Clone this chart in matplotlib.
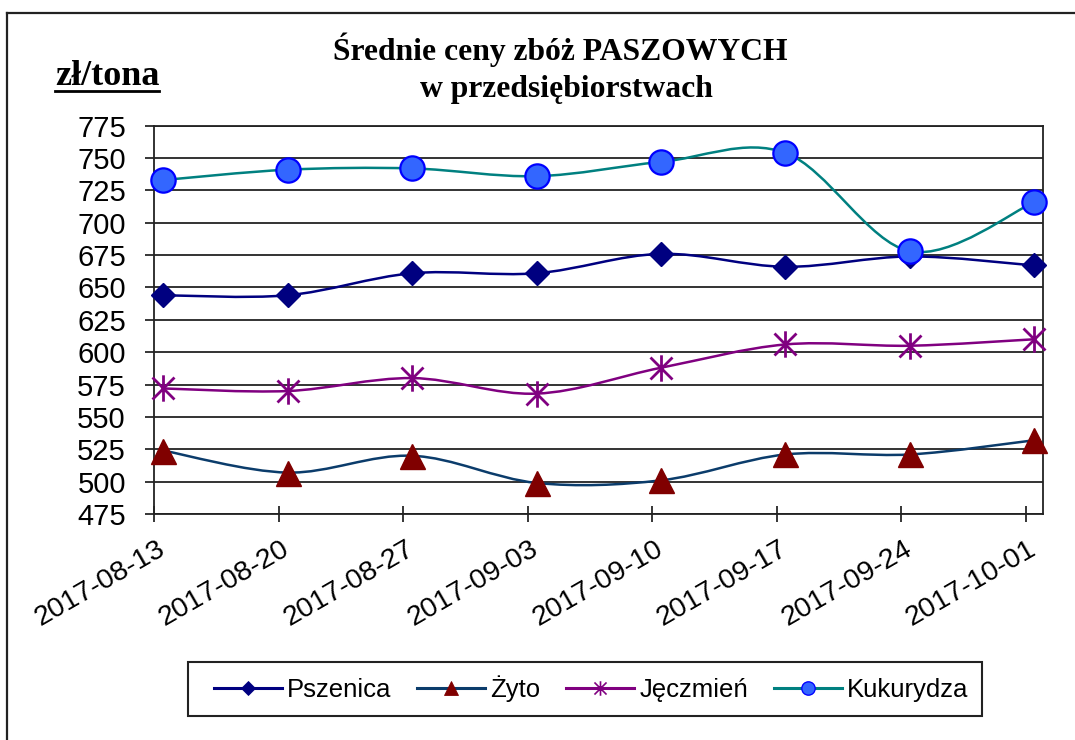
import numpy as np
import matplotlib
matplotlib.use("Agg")
import matplotlib.pyplot as plt
import matplotlib.dates as mdates
from matplotlib.path import Path
from matplotlib.patches import PathPatch, Rectangle
from matplotlib.lines import Line2D

# ---------------- data ----------------
dates = ["2017-08-13", "2017-08-20", "2017-08-27", "2017-09-03",
         "2017-09-10", "2017-09-17", "2017-09-24", "2017-10-01"]
pszenica = [644, 644, 661, 661, 676, 666, 674, 667]
zyto = [524, 507, 520, 499, 501, 521, 521, 532]
jeczmien = [572, 570, 580, 568, 588, 606, 605, 610]
kukurydza = [733, 741, 742, 736, 747, 754, 678, 716]
series_names = ["Pszenica", "Żyto", "Jęczmień", "Kukurydza"]
y_ticks = list(range(475, 776, 25))
title = "Średnie ceny zbóż PASZOWYCH\nw przedsiębiorstwach"
unit_label = "zł/tona"

plt.rcParams['font.family'] = ['Liberation Sans', 'DejaVu Sans']

W, H = 1075, 740
fig = plt.figure(figsize=(W / 100, H / 100), dpi=100)
ax = fig.add_axes([154.3 / W, 1 - 514 / H, (1043.3 - 154.3) / W, (514 - 125.7) / H])

xnum = mdates.datestr2num(dates)
xpts = xnum + 0.5  # Excel date axis: points centred within the day


def smooth_path(xs, ys):
    pts = np.column_stack([xs, ys]).astype(float)
    n = len(pts)
    verts = [pts[0]]
    codes = [Path.MOVETO]
    for i in range(n - 1):
        p0 = pts[i - 1] if i > 0 else pts[i]
        p1 = pts[i]
        p2 = pts[i + 1]
        p3 = pts[i + 2] if i + 2 < n else pts[i + 1]
        c1 = p1 + (p2 - p0) / 6.0
        c2 = p2 - (p3 - p1) / 6.0
        verts += [c1, c2, p2]
        codes += [Path.CURVE4] * 3
    return Path(verts, codes)


# custom Excel-like star marker (X plus vertical bar)
star = Path([(-1, -1), (1, 1), (-1, 1), (1, -1), (0, -1.2), (0, 1.2)],
            [Path.MOVETO, Path.LINETO, Path.MOVETO, Path.LINETO, Path.MOVETO, Path.LINETO])

styles = [
    dict(vals=pszenica, lc="#000080", marker="D", ms=12.5, mfc="#000080", mec="#000080", mew=1.0),
    dict(vals=zyto, lc="#0B3C6B", marker="^", ms=18, mfc="#800000", mec="#800000", mew=1.0),
    dict(vals=jeczmien, lc="#800080", marker=star, ms=19, mfc="none", mec="#800080", mew=2.0),
    dict(vals=kukurydza, lc="#008080", marker="o", ms=17.5, mfc="#3366FF", mec="#0000FF", mew=1.6),
]

handles = []
for k, (name, st) in enumerate(zip(series_names, styles)):
    patch = PathPatch(smooth_path(xpts, st["vals"]), fill=False, edgecolor=st["lc"],
                      lw=1.8, zorder=3 + 2 * k, capstyle='round', joinstyle='round')
    ax.add_patch(patch)
    ax.plot(xpts, st["vals"], linestyle="none", marker=st["marker"], ms=st["ms"],
            mfc=st["mfc"], mec=st["mec"], mew=st["mew"], zorder=4 + 2 * k, clip_on=False)
    handles.append(Line2D([], [], color=st["lc"], lw=2.2, marker=st["marker"],
                          ms=st["ms"] * 0.55, mfc=st["mfc"], mec=st["mec"],
                          mew=st["mew"] * 0.6, label=name))

ax.set_xlim(xnum[0], xnum[-1] + 1)
ax.set_ylim(y_ticks[0], y_ticks[-1])
ax.set_yticks(y_ticks)
ax.set_yticklabels([str(v) for v in y_ticks], fontsize=21)
ax.yaxis.grid(True, color="#111111", lw=1.2, zorder=1)
ax.set_axisbelow(True)
ax.tick_params(axis="y", direction="out", length=6.5, width=1.1, pad=14, colors="black")

# x axis: major tick marks at the dates, labels centred at data positions
ax.set_xticks(xnum)
ax.set_xticklabels([""] * len(xnum))
ax.tick_params(axis="x", which="major", direction="inout", length=11.5, width=1.1)
ax.set_xticks(xpts, minor=True)
ax.set_xticklabels(dates, minor=True, rotation=30, ha="right", va="center",
                   rotation_mode="anchor", fontsize=20.5)
ax.tick_params(axis="x", which="minor", length=0, pad=24)

for s in ax.spines.values():
    s.set_color("#222222")
    s.set_linewidth(1.3)

# titles
serif = ["Liberation Serif", "DejaVu Serif"]
fig.text(560 / W, 1 - 60 / H, title.split("\n")[0], ha="center", va="baseline",
         family=serif, fontweight="bold", fontsize=22.8)
fig.text(566 / W, 1 - 97 / H, title.split("\n")[1], ha="center", va="baseline",
         family=serif, fontweight="bold", fontsize=22.8)
fig.text(55 / W, 1 - 85 / H, unit_label, ha="left", va="baseline",
         family=serif, fontweight="bold", fontsize=26)
fig.add_artist(Line2D([55 / W, 159 / W], [1 - 90.7 / H] * 2, color="black", lw=2.0))

# outer chart border
fig.add_artist(Line2D([7.3 / W, 7.3 / W], [0, 1 - 13.3 / H], color="#222222", lw=1.6))
fig.add_artist(Line2D([7.3 / W, 1], [1 - 13.3 / H] * 2, color="#222222", lw=1.6))

# legend (entries) + its frame
fig.add_artist(Rectangle((188 / W, 1 - 716 / H), (982 - 188) / W, (716 - 662) / H,
                         transform=fig.transFigure, fill=False, edgecolor="#222222", lw=1.5))
leg = fig.legend(handles=handles, loc="center", ncol=4,
                 bbox_to_anchor=(591 / W, 1 - 689 / H),
                 fontsize=18.5, frameon=False, handlelength=2.65,
                 handletextpad=0.2, columnspacing=1.0, borderpad=0.3,
                 borderaxespad=0)

fig.savefig("out.png", dpi=100)
